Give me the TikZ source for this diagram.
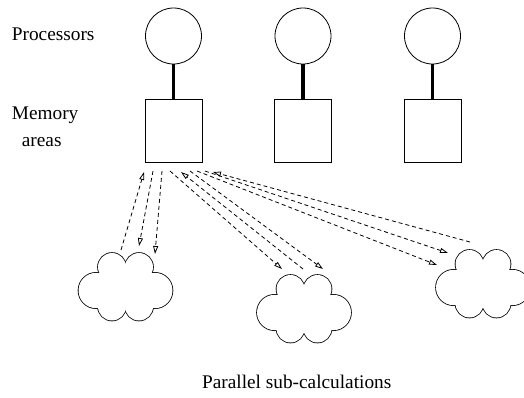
\documentclass[tikz,border=0pt]{standalone}
\usepackage{fontspec}
\setmainfont{Liberation Serif}
\usetikzlibrary{arrows.meta}
\begin{document}
\begin{tikzpicture}[x=1pt,y=-1pt,
  proc/.style={draw, circle, minimum size=56pt, inner sep=0pt, line width=0.8pt},
  mem/.style={draw, rectangle, minimum width=57pt, minimum height=63pt, inner sep=0pt, line width=0.8pt},
  bus/.style={line width=3.6pt},
  flow/.style={line width=0.8pt, dash pattern=on 4pt off 3pt, -{Triangle[open,length=8pt,width=5pt]}},
  lbl/.style={font=\fontsize{19.3}{23}\selectfont, inner sep=0pt},
  cloudpic/.pic={
    \begin{scope}[yscale=-1]
      \foreach \cx/\cy/\r in {-13.5/21.5/14, 13.5/21.5/14, -13.5/-18/14, 13.5/-18/14, 29.3/-2/17.7, -29.3/-2/17.7}
        \draw[line width=1.6pt] (\cx,\cy) circle[radius=\r];
      \foreach \cx/\cy/\r in {-13.5/21.5/14, 13.5/21.5/14, -13.5/-18/14, 13.5/-18/14, 29.3/-2/17.7, -29.3/-2/17.7}
        \fill[white] (\cx,\cy) circle[radius=\r];
      \fill[white] (0,23) -- (24,13.5) -- (25,-17.5) -- (0,-19.5) -- (-25,-17.5) -- (-24,13.5) -- cycle;
    \end{scope}
  }
]
\useasboundingbox (0,0) rectangle (524,397);

% labels
\node[lbl, anchor=base west] (tproc) at (11.7,40.7) {Processors};
\node[lbl, anchor=base west] (tmem) at (11.7,119.3) {Memory};
\node[lbl, anchor=base west] (tarea) at (21.7,146) {areas};
\node[lbl, anchor=base] (tpar) at (296.7,388) {Parallel sub-calculations};

% processors and memory
\node[proc] (p1) at (173.5,36) {};
\node[proc] (p2) at (303,36) {};
\node[proc] (p3) at (432.5,36) {};
\node[mem] (m1) at (173.5,130.5) {};
\node[mem] (m2) at (303,130.5) {};
\node[mem] (m3) at (432.5,130.5) {};
\draw[bus] (p1.south) -- (m1.north);
\draw[bus] (p2.south) -- (m2.north);
\draw[bus] (p3.south) -- (m3.north);

% clouds
\pic (k1) at (125.5,288.5) {cloudpic};
\pic (k2) at (304,310.5) {cloudpic};
\pic (k3) at (483,285.5) {cloudpic};

% arrow end points
\coordinate (a1s) at (121,250);  \coordinate (a1e) at (144,172);
\coordinate (a2s) at (153,171);  \coordinate (a2e) at (139,246);
\coordinate (a3s) at (162,171);  \coordinate (a3e) at (155,254);
\coordinate (b1s) at (170,171);  \coordinate (b1e) at (282,269);
\coordinate (b2s) at (303,269);  \coordinate (b2e) at (181,172);
\coordinate (b3s) at (190,171);  \coordinate (b3e) at (323,269);
\coordinate (c1s) at (197,171);  \coordinate (c1e) at (437,265);
\coordinate (c2s) at (205,171);  \coordinate (c2e) at (448,253);
\coordinate (c3s) at (470,242);  \coordinate (c3e) at (213,172);

\draw[flow] (a1s) -- (a1e);
\draw[flow] (a2s) -- (a2e);
\draw[flow] (a3s) -- (a3e);
\draw[flow] (b1s) -- (b1e);
\draw[flow] (b2s) -- (b2e);
\draw[flow] (b3s) -- (b3e);
\draw[flow] (c1s) -- (c1e);
\draw[flow] (c2s) -- (c2e);
\draw[flow] (c3s) -- (c3e);
\end{tikzpicture}
\end{document}
